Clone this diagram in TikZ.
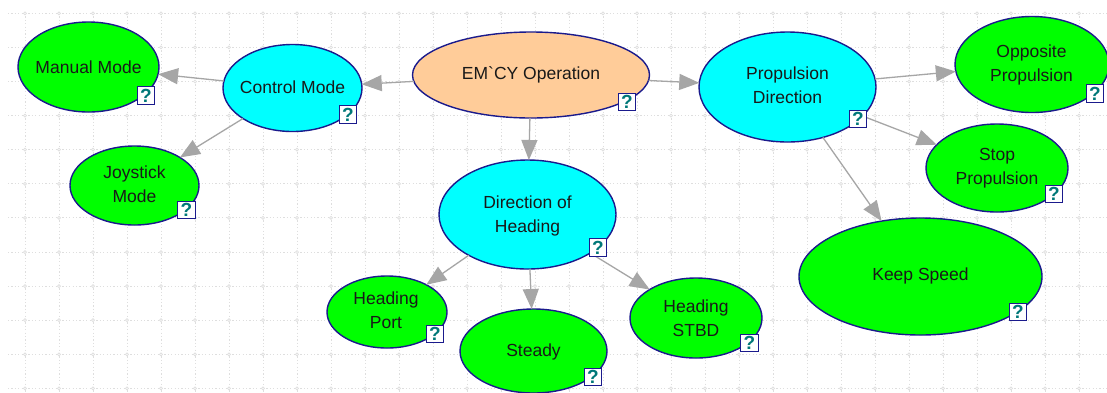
\documentclass[tikz,border=0pt]{standalone}
\usepackage{fontspec}
\setmainfont{Liberation Sans}
\newfontfamily\rawsans{Liberation Sans}
\usetikzlibrary{shapes.geometric,arrows.meta}
\definecolor{navyline}{HTML}{1A1A8C}
\definecolor{nodegreen}{HTML}{00FF00}
\definecolor{nodecyan}{HTML}{00FFFF}
\definecolor{nodepeach}{HTML}{FFCC99}
\definecolor{linkgrey}{HTML}{A6A6A6}
\definecolor{gridgrey}{HTML}{DEDEDE}
\definecolor{qteal}{HTML}{007878}
\tikzset{
  x=1pt,y=-1pt,
  txt/.style={font=\fontsize{17.5}{24}\selectfont,align=center,text=black!90,inner sep=0pt,outer sep=0pt},
  ell/.style={ellipse,draw=navyline,line width=1.4pt,inner sep=0pt,outer sep=0pt},
  leaf/.style={ell,fill=nodegreen},
  mid/.style={ell,fill=nodecyan},
  root/.style={ell,fill=nodepeach},
  helpbox/.style={draw=navyline,line width=1.2pt,fill=white,minimum size=17.5pt,inner sep=0pt,text=qteal,font=\fontsize{19}{19}\bfseries\selectfont},
  link/.style={draw=linkgrey,line width=1.3pt,-{Triangle[length=20pt,width=16pt,fill=linkgrey]}},
  gridline/.style={draw=gridgrey,line width=0.9pt,dash pattern=on 1.2pt off 2.2pt},
  gridmark/.style={draw=gridgrey,line width=0.7pt,fill=white}
}
\begin{document}
\begin{tikzpicture}
\useasboundingbox (0,0) rectangle (1107,392);
\fill[white] (0,0) rectangle (1107,392);
\foreach \k in {0,...,11}{
  \draw[gridline] (8,13.3+34.1*\k) -- (1107,13.3+34.1*\k);
}
\foreach \k in {0,...,31}{
  \draw[gridline] (25+34*\k,13) -- (25+34*\k,392);
}
\foreach \i in {0,...,31}{\foreach \j in {0,...,11}{
  \draw[gridmark] (25+34*\i,13.3+34.1*\j) circle[radius=1.5pt];
}}
% nodes
\node[root,minimum width=237pt,minimum height=86pt,label={[txt,yshift=0pt]center:{\rawsans EM`CY Operation}}] (em) at (531,75) {};
\node[mid,minimum width=139pt,minimum height=87pt,label={[txt,yshift=1pt]center:{Control Mode}}] (control) at (292.5,88) {};
\node[mid,minimum width=177pt,minimum height=110pt,label={[txt,yshift=2pt]center:{Propulsion\\Direction}}] (prop) at (787.5,87) {};
\node[mid,minimum width=177pt,minimum height=109pt,label={[txt,yshift=-1pt]center:{Direction of\\Heading}}] (dir) at (527.5,214.5) {};
\node[leaf,minimum width=141pt,minimum height=90pt,label={[txt]center:{Manual Mode}}] (manual) at (88.5,67) {};
\node[leaf,minimum width=129pt,minimum height=79pt,label={[txt,yshift=1pt]center:{Joystick\\Mode}}] (joy) at (134.5,185.5) {};
\node[leaf,minimum width=154pt,minimum height=96pt,label={[txt,yshift=0pt,xshift=-0.5pt]center:{Opposite\\Propulsion}}] (opp) at (1032,64.5) {};
\node[leaf,minimum width=142pt,minimum height=88pt,label={[txt]center:{Stop\\Propulsion}}] (stop) at (997,168) {};
\node[leaf,minimum width=243pt,minimum height=117pt,label={[txt,yshift=1pt]center:{Keep Speed}}] (keep) at (920.5,276.5) {};
\node[leaf,minimum width=120pt,minimum height=72pt,label={[txt,yshift=2pt,xshift=-1pt]center:{Heading\\Port}}] (port) at (387,312) {};
\node[leaf,minimum width=147pt,minimum height=84pt,label={[txt,yshift=-1pt]center:{Steady}}] (steady) at (533.5,351) {};
\node[leaf,minimum width=132pt,minimum height=80pt,label={[txt]center:{Heading\\STBD}}] (stbd) at (696,318) {};
% connectors
\draw[link] (em) -- (control);
\draw[link] (em) -- (prop);
\draw[link] (em) -- (dir);
\draw[link] (control) -- (manual);
\draw[link] (control) -- (joy);
\draw[link] (prop) -- (opp);
\draw[link] (prop) -- (stop);
\draw[link] (prop) -- (keep);
\draw[link] (dir) -- (port);
\draw[link] (dir) -- (steady);
\draw[link] (dir) -- (stbd);
% help boxes
\node[helpbox] (hem) at (627,102) {?};
\node[helpbox] (hcontrol) at (348,114.5) {?};
\node[helpbox] (hprop) at (858,119) {?};
\node[helpbox] (hdir) at (598,247.5) {?};
\node[helpbox] (hmanual) at (146,95.5) {?};
\node[helpbox] (hjoy) at (186.5,210) {?};
\node[helpbox] (hopp) at (1095,93.5) {?};
\node[helpbox] (hstop) at (1054,194) {?};
\node[helpbox] (hkeep) at (1018,312) {?};
\node[helpbox] (hport) at (435,334) {?};
\node[helpbox] (hsteady) at (593,377) {?};
\node[helpbox] (hstbd) at (749.5,343) {?};
\end{tikzpicture}
\end{document}
